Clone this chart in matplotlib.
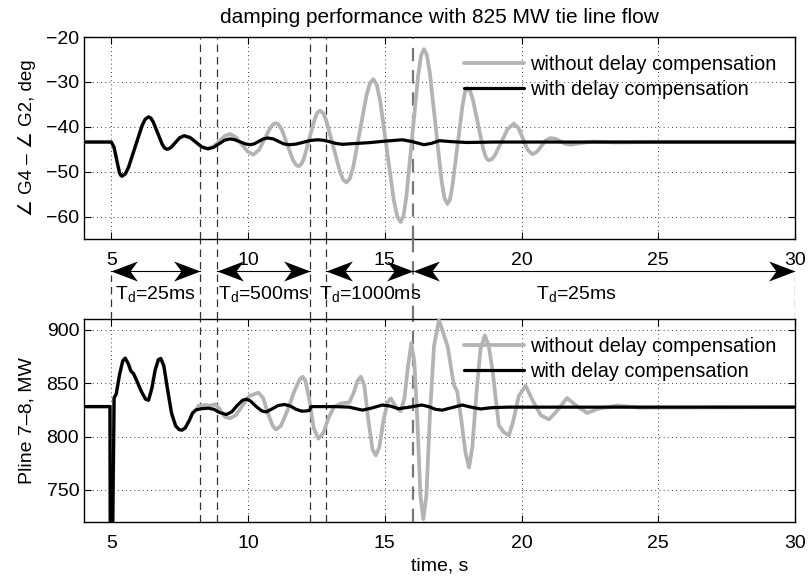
import matplotlib
matplotlib.use("Agg")
import matplotlib.pyplot as plt
from matplotlib.path import Path

plt.rcParams['font.family'] = ['Liberation Sans', 'DejaVu Sans']
plt.rcParams['mathtext.default'] = 'regular'
plt.rcParams['font.size'] = 14

title = "damping performance with 825 MW tie line flow"
label_without = "without delay compensation"
label_with = "with delay compensation"
ylabel_top = "\u2220 G4 \u2013 \u2220 G2, deg"
ylabel_bottom = "Pline 7\u20138, MW"
xlabel = "time, s"

xticks = [5, 10, 15, 20, 25, 30]
yticks_top = [-60, -50, -40, -30, -20]
yticks_bottom = [750, 800, 850, 900]

# switching instants of the delay (dashed lines)
switch_times = [8.25, 8.87, 12.26, 12.86, 16.03]
segments = [(5.0, 8.25), (8.87, 12.26), (12.86, 16.03), (16.03, 30.0)]
segment_text_x = [6.62, 10.57, 14.45, 22.0]
segment_labels = ["25ms", "500ms", "1000ms", "25ms"]

# ---- top: angle difference, with compensation
t_ang_with = [4.0, 5.0, 5.1, 5.2, 5.3, 5.345, 5.39, 5.511, 5.63, 5.875, 6.12, 6.239, 6.36, 6.444, 6.53,
              6.695, 6.86, 6.946, 7.03, 7.109, 7.19, 7.345, 7.50, 7.66, 7.88, 8.095, 8.31, 8.53,
              8.73, 8.935, 9.14, 9.34, 9.52, 9.705, 9.89, 10.07, 10.23, 10.395, 10.56, 10.72,
              10.92, 11.11, 11.3, 11.5, 11.76, 12.02, 12.28, 12.54, 12.75, 12.97, 13.2, 13.45,
              14.0, 14.5, 15.0, 15.64, 16.0, 16.43, 16.7, 17.0, 17.4, 18.0, 19.0, 30.0]
y_ang_with = [-43.4, -43.4, -44.6, -47.5, -50.3, -50.8, -51.0, -50.5, -49.0, -44.4, -39.8, -38.3, -37.8, -38.07, -38.9,
              -41.4, -43.9, -44.73, -45.0, -44.89, -44.55, -43.5, -42.45, -42.0, -42.4, -43.45, -44.5, -44.9,
              -44.6, -43.8, -43.0, -42.7, -42.9, -43.35, -43.8, -44.0, -43.8, -43.25, -42.7, -42.5,
              -42.7, -43.25, -43.8, -44.0, -43.85, -43.45, -43.05, -42.9, -43.0, -43.3, -43.7, -43.9,
              -43.7, -43.5, -43.2, -42.9, -43.3, -44.0, -43.7, -43.1, -43.3, -43.5, -43.4, -43.4]

# ---- top: angle difference, without compensation
t_ang_without = [4.0, 5.0, 5.1, 5.2, 5.3, 5.345, 5.39, 5.511, 5.63, 5.875, 6.12, 6.239, 6.36, 6.444, 6.53,
                 6.695, 6.86, 6.946, 7.03, 7.109, 7.19, 7.345, 7.50, 7.66, 7.88, 8.095, 8.31, 8.53,
                 8.73, 8.935, 9.14, 9.34, 9.55, 9.765, 9.98, 10.19, 10.40, 10.605, 10.81, 10.916,
                 11.02, 11.124, 11.23, 11.435, 11.64, 11.746, 11.85, 11.9475, 12.05, 12.24, 12.44,
                 12.5325, 12.63, 12.751, 12.87, 13.115, 13.36, 13.479, 13.6, 13.7225, 13.845, 14.09,
                 14.335, 14.4575, 14.58, 14.705, 14.83, 15.08, 15.33, 15.455, 15.58, 15.686, 15.79,
                 16.005, 16.22, 16.324, 16.43, 16.5375, 16.645, 16.86, 17.075, 17.1825, 17.29, 17.381,
                 17.47, 17.655, 17.84, 17.929, 18.02, 18.1175, 18.215, 18.41, 18.605, 18.7025, 18.8,
                 18.915, 19.03, 19.26, 19.49, 19.72, 19.89, 20.055, 20.22, 20.39, 20.56, 20.725, 20.89,
                 21.06, 21.25, 21.43, 21.6, 21.8, 22.2, 22.6, 23.5, 24.5, 30.0]
y_ang_without = [-43.4, -43.4, -44.6, -47.5, -50.3, -50.8, -51.0, -50.5, -49.0, -44.4, -39.8, -38.3, -37.8, -38.07, -38.9,
                 -41.4, -43.9, -44.73, -45.0, -44.89, -44.55, -43.5, -42.45, -42.0, -42.4, -43.45, -44.5, -44.9,
                 -44.4, -43.25, -42.1, -41.6, -42.3, -43.9, -45.5, -46.2, -45.15, -42.7, -40.25, -39.47,
                 -39.2, -39.56, -40.6, -44.0, -47.4, -48.44, -48.8, -48.33, -46.95, -42.6, -38.25,
                 -36.87, -36.4, -37.01, -38.8, -44.4, -50.0, -51.79, -52.4, -51.53, -48.95, -40.9,
                 -32.85, -30.27, -29.4, -30.61, -34.2, -45.3, -56.4, -59.99, -61.2, -59.74, -55.4,
                 -41.95, -28.5, -24.16, -22.7, -24.01, -27.9, -39.95, -52.0, -55.89, -57.2, -56.22,
                 -53.3, -44.3, -35.3, -32.38, -31.4, -32.01, -33.8, -39.45, -45.1, -46.89, -47.5,
                 -47.19, -46.3, -43.4, -40.5, -39.3, -40.3, -42.7, -45.1, -46.1, -45.6, -44.3, -43.0,
                 -42.5, -42.7, -43.25, -43.8, -44.0, -43.6, -43.3, -43.5, -43.4, -43.4]

# ---- bottom: line flow, with compensation
t_p_with = [4.0, 4.95, 4.96, 5.05, 5.1, 5.18, 5.3, 5.42, 5.51, 5.62, 5.72, 5.81, 5.95, 6.1, 6.25, 6.36,
            6.48, 6.6, 6.72, 6.81, 6.92, 7.05, 7.2, 7.35, 7.48, 7.58, 7.7, 7.85, 7.97, 8.1, 8.3, 8.55,
            8.75, 8.95, 9.2, 9.4, 9.6, 9.8, 9.95, 10.1, 10.3, 10.5, 10.66, 10.85, 11.1, 11.33, 11.55,
            11.75, 11.97, 12.15, 12.25, 12.3, 12.6, 13.2, 13.7, 14.18, 14.5, 14.91, 15.2, 15.5, 15.9,
            16.35, 16.6, 16.85, 17.1, 17.45, 17.83, 18.15, 18.5, 18.9, 19.5, 30.0]
p_with = [828, 828, 715, 715, 836, 840, 858, 871, 873.3, 868, 861, 859, 851, 842, 835, 834,
          845, 862, 872, 873, 866, 845, 822, 810, 806.5, 806, 808, 815, 822, 825, 826, 826.5,
          825.5, 822.5, 820.6, 823, 829, 834, 835, 833, 828, 824, 823, 825.5, 829, 830, 828.5,
          825.5, 823.7, 824, 824.5, 828, 828, 828, 827.5, 824.7, 826.5, 829.5, 828.5, 826, 827.5,
          829.5, 828, 825.5, 824.7, 827, 829.5, 827.5, 825.8, 827, 827.5, 827.5]

# ---- bottom: line flow, without compensation
t_p_without = [4.0, 4.95, 4.96, 5.05, 5.1, 5.18, 5.3, 5.42, 5.51, 5.62, 5.72, 5.81, 5.95, 6.1, 6.25, 6.36,
               6.48, 6.6, 6.72, 6.81, 6.92, 7.05, 7.2, 7.35, 7.48, 7.58, 7.7, 7.85, 7.97, 8.1,
               8.19, 8.4, 8.6, 8.8, 8.95, 9.15, 9.34, 9.55, 9.8, 10.05, 10.38, 10.55, 10.75, 10.9,
               11.02, 11.2, 11.45, 11.7, 11.88, 11.99, 12.1, 12.25, 12.4, 12.57, 12.75, 12.95, 13.15,
               13.4, 13.7, 13.85, 14.0, 14.12, 14.25, 14.4, 14.55, 14.67, 14.8, 14.95, 15.1, 15.22,
               15.4, 15.58, 15.72, 15.85, 15.97, 16.08, 16.2, 16.3, 16.41, 16.52, 16.65, 16.8, 16.98,
               17.1, 17.3, 17.45, 17.53, 17.65, 17.8, 17.95, 18.08, 18.2, 18.35, 18.5, 18.66, 18.8,
               18.95, 19.05, 19.17, 19.35, 19.54, 19.7, 19.9, 20.15, 20.4, 20.7, 21.0, 21.3, 21.66,
               22.0, 22.4, 22.8, 23.5, 24.3, 30.0]
p_without = [828, 828, 715, 715, 836, 840, 858, 871, 873.3, 868, 861, 859, 851, 842, 835, 834,
             845, 862, 872, 873, 866, 845, 822, 810, 806.5, 806, 808, 815, 822, 825,
             828.7, 829.5, 829, 830, 826, 818.5, 817, 820, 829, 838, 841, 836, 820, 810,
             806.5, 810, 825, 843, 853, 856, 852, 833, 808, 798, 803, 818, 827.8,
             831, 832, 840, 852, 856, 848, 815, 788, 782.3, 790, 815, 832, 835.7,
             828, 823.7, 836, 866, 887.5, 870, 810, 745, 722.7, 745, 820, 885, 909,
             900, 884, 860, 848, 842, 815, 785, 771, 790, 840, 882, 894.7, 885,
             860, 837, 810.5, 804, 801, 815, 838, 847.5, 834, 820, 816, 824, 836,
             829, 822, 826, 829, 827, 827.5]

GRAY = '#b3b3b3'
W, H = 809, 579
fig = plt.figure(figsize=(W / 100, H / 100), dpi=100)

def frac(x0, y0, x1, y1):
    return [x0 / W, 1 - y1 / H, (x1 - x0) / W, (y1 - y0) / H]

ax1 = fig.add_axes(frac(84, 37, 795, 239))
ax2 = fig.add_axes(frac(84, 319, 795, 522))
axm = fig.add_axes(frac(84, 239, 795, 319))

def style(ax, yticks):
    ax.set_xlim(4, 30)
    ax.set_xticks(xticks)
    ax.set_yticks(yticks)
    ax.grid(True, linestyle=(0, (1, 4)), color='black', linewidth=0.6)
    ax.tick_params(direction='in', top=True, right=True, length=5, width=0.8, labelsize=14)
    ax.tick_params(axis='x', pad=9)
    for s in ax.spines.values():
        s.set_linewidth(1.0)

def dashed(ax, x, y0=None, y1=None, last=False):
    kw = dict(color='#777777', linewidth=1.6) if last else dict(color='#333333', linewidth=0.9)
    if y0 is None:
        ax.axvline(x, linestyle=(0, (6, 4)), zorder=1, **kw)
    else:
        ax.plot([x, x], [y0, y1], linestyle=(0, (6, 4)), zorder=1, **kw)

for ax in (ax1, ax2):
    for i, ts in enumerate(switch_times):
        dashed(ax, ts, last=(i == len(switch_times) - 1))

line_kw = dict(solid_joinstyle='round', solid_capstyle='round')
ax1.plot(t_ang_without, y_ang_without, color=GRAY, linewidth=2.7, label=label_without, zorder=3, **line_kw)
ax1.plot(t_ang_with, y_ang_with, color='black', linewidth=2.3, label=label_with, zorder=4, **line_kw)
style(ax1, yticks_top)
ax1.set_ylim(-65, -20)
ax1.set_ylabel(ylabel_top, fontsize=13.5)
ax1.set_title(title, fontsize=15, pad=10)

ax2.plot(t_p_without, p_without, color=GRAY, linewidth=2.7, label=label_without, zorder=3, **line_kw)
ax2.plot(t_p_with, p_with, color='black', linewidth=2.3, label=label_with, zorder=4, **line_kw)
style(ax2, yticks_bottom)
ax2.set_ylim(720, 910)
ax2.set_ylabel(ylabel_bottom, fontsize=14)
ax2.set_xlabel(xlabel, fontsize=14, labelpad=4)

for ax in (ax1, ax2):
    ax.legend(loc='upper left', bbox_to_anchor=(0.535, 0.91), frameon=False, fontsize=14.3,
              handlelength=3.0, handletextpad=0.3, borderaxespad=0.0, borderpad=0.0,
              labelspacing=0.3)

ax1.yaxis.set_label_coords(-0.068, 0.5)
ax2.yaxis.set_label_coords(-0.068, 0.5)

# middle annotation strip
axm.set_xlim(4, 30)
axm.set_ylim(0, 80)
axm.axis('off')
for i, ts in enumerate(switch_times):
    dashed(axm, ts, 0, 80, last=(i == len(switch_times) - 1))
for xe in (5.0, 30.0):
    dashed(axm, xe, 0, 44)

head_right = Path([(0, 0), (-1, 0.38), (-0.72, 0), (-1, -0.38), (0, 0)],
                  [Path.MOVETO, Path.LINETO, Path.LINETO, Path.LINETO, Path.CLOSEPOLY])
head_left = Path([(0, 0), (1, 0.38), (0.72, 0), (1, -0.38), (0, 0)],
                 [Path.MOVETO, Path.LINETO, Path.LINETO, Path.LINETO, Path.CLOSEPOLY])
arrow_y = 48
for (a, b) in segments:
    axm.plot([a, b], [arrow_y, arrow_y], color='black', linewidth=0.8)
    axm.plot([a], [arrow_y], marker=head_left, markersize=38, color='black', markeredgewidth=0)
    axm.plot([b], [arrow_y], marker=head_right, markersize=38, color='black', markeredgewidth=0)
for xt, lab in zip(segment_text_x, segment_labels):
    axm.text(xt, 25, r'T$_{d}$=' + lab, ha='center', va='center', fontsize=14)

fig.savefig('out.png', dpi=100)
